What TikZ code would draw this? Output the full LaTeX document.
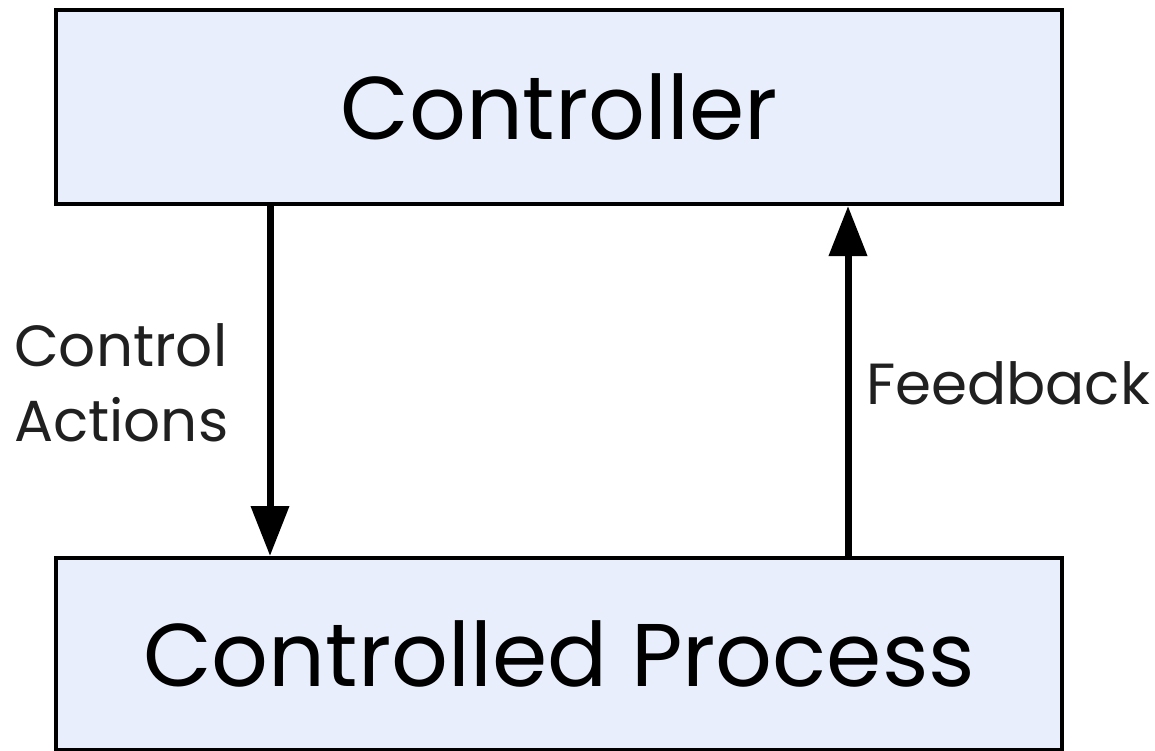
\documentclass[tikz,border=0pt]{standalone}
\usepackage{fontspec}
\setmainfont{Poppins}
\usetikzlibrary{arrows.meta}
\definecolor{boxfill}{HTML}{E8EEFB}
\definecolor{labelgray}{HTML}{202020}
\tikzset{
  block/.style={draw=black, line width=4pt, fill=boxfill, rectangle, minimum width=1006pt, inner sep=0pt, font=\fontsize{89}{100}\selectfont},
  flow/.style={line width=7pt, -{Triangle[length=50pt,width=37pt]}},
  lbl/.style={inner sep=0pt, text=labelgray, font=\fontsize{58}{75}\selectfont}
}
\begin{document}
\begin{tikzpicture}[x=1pt,y=-1pt]
\useasboundingbox (0,0) rectangle (1155,751);
\node[block, minimum height=194pt] (ctrl) at (559,107) {Controller};
\node[block, minimum height=192pt] (proc) at (559,654) {Controlled Process};
\coordinate (a1) at (270,0);
\coordinate (a2) at (848,0);
\draw[flow] (ctrl.south -| a1) -- (proc.north -| a1);
\draw[flow] (proc.north -| a2) -- (ctrl.south -| a2);
\node[lbl, anchor=west, align=left] (ca) at (14,383) {Control\\Actions};
\node[lbl, anchor=west] (fb) at (866,383) {Feedback};
\end{tikzpicture}
\end{document}
